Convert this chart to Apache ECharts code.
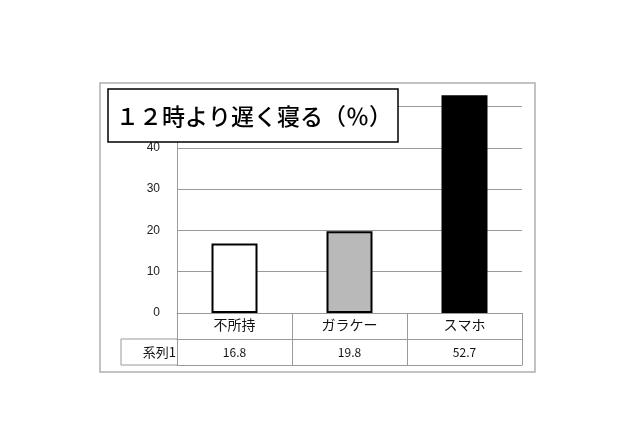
<!DOCTYPE html>
<html>
<head>
<meta charset="utf-8">
<script src="https://cdn.jsdelivr.net/npm/echarts@6/dist/echarts.min.js"></script>
<style>
  html, body { margin: 0; padding: 0; background: #fff; }
  #chart { width: 640px; height: 426px; }
</style>
</head>
<body>
<div id="chart"></div>
<script>
const categories = ['不所持', 'ガラケー', 'スマホ'];
const values = [16.8, 19.8, 52.7];
const barColors = ['#ffffff', '#b9b9b9', '#000000'];
const seriesName = '系列1';
const titleText = '１２時より遅く寝る（％）';

const font = '"Noto Sans CJK JP", sans-serif';
const lineGray = '#9a9a9a';

const chart = echarts.init(document.getElementById('chart'));

chart.setOption({
  backgroundColor: '#fff',
  animation: false,
  grid: { left: 177, right: 118, top: 92, bottom: 113 },
  xAxis: [
    {
      type: 'category',
      data: categories,
      position: 'bottom',
      axisLine: { show: true, lineStyle: { color: lineGray, width: 1 } },
      axisTick: { show: true, length: 26, interval: 0, lineStyle: { color: lineGray } },
      axisLabel: { margin: 5, fontSize: 14, color: '#111', fontFamily: font }
    },
    {
      type: 'category',
      data: categories,
      position: 'bottom',
      offset: 26,
      axisLine: { show: true, lineStyle: { color: lineGray, width: 1 } },
      axisTick: { show: true, length: 26, interval: 0, lineStyle: { color: lineGray } },
      axisLabel: {
        margin: 7, fontSize: 12, color: '#111', fontFamily: font,
        formatter: (v, i) => values[i].toFixed(1)
      }
    },
    {
      type: 'category',
      data: categories,
      position: 'bottom',
      offset: 52,
      axisLine: { show: true, lineStyle: { color: lineGray, width: 1 } },
      axisTick: { show: false },
      axisLabel: { show: false }
    }
  ],
  yAxis: {
    type: 'value',
    min: 0,
    max: 53.5,
    interval: 10,
    axisLine: { show: true, lineStyle: { color: lineGray } },
    axisTick: { show: false },
    axisLabel: { fontSize: 12, color: '#222', margin: 17, showMaxLabel: false, fontFamily: 'Liberation Sans, sans-serif' },
    splitLine: { show: true, showMaxLine: false, lineStyle: { color: lineGray, width: 1 } }
  },
  series: [{
    type: 'bar',
    name: seriesName,
    data: values.map((v, i) => ({
      value: v,
      itemStyle: { color: barColors[i], borderColor: '#000', borderWidth: 2 }
    })),
    barWidth: 46
  }],
  graphic: [
    // outer chart frame
    { type: 'rect', shape: { x: 100, y: 83, width: 435, height: 289 }, silent: true, z: -1,
      style: { fill: 'none', stroke: '#b0b0b0', lineWidth: 1.5 } },
    // legend-key cell of the data table
    { type: 'polyline', shape: { points: [[177, 339], [121, 339], [121, 365], [177, 365]] },
      style: { fill: 'none', stroke: lineGray, lineWidth: 1 } },
    { type: 'text', x: 176, y: 352,
      style: { text: seriesName, fontSize: 13, fill: '#111', fontFamily: font, align: 'right', verticalAlign: 'middle' } },
    // title box
    { type: 'rect', shape: { x: 108, y: 89, width: 290, height: 53 }, z: 100,
      style: { fill: '#fff', stroke: '#000', lineWidth: 1.5 } },
    { type: 'text', x: 116, y: 116, z: 101,
      style: { text: titleText, fontSize: 23, fontWeight: 500, fill: '#000', fontFamily: font, verticalAlign: 'middle' } }
  ]
});
</script>
</body>
</html>
